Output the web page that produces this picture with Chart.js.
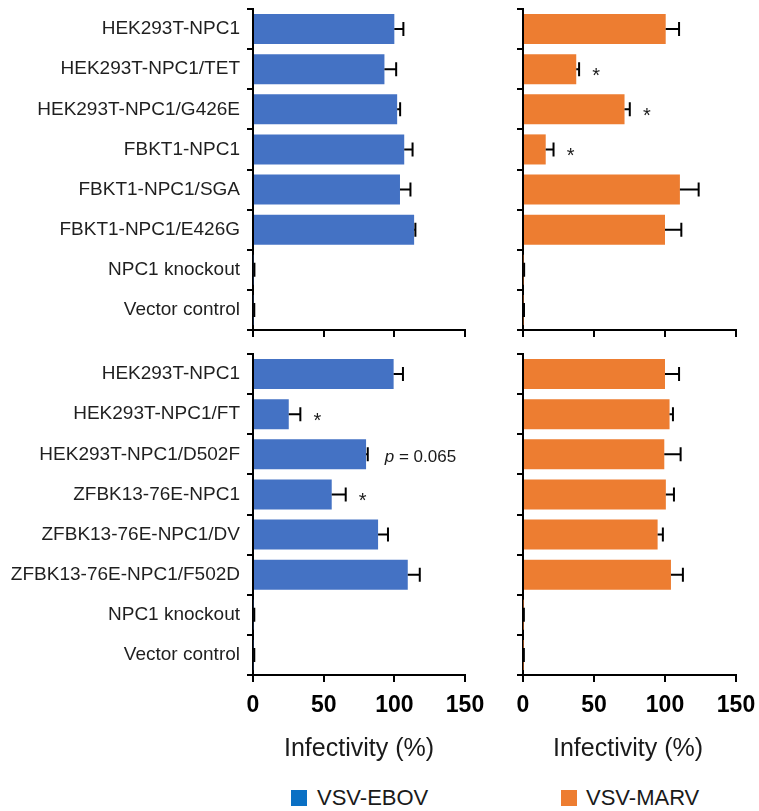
<!DOCTYPE html>
<html>
<head>
<meta charset="utf-8">
<script src="https://cdn.jsdelivr.net/npm/chart.js@4/dist/chart.umd.min.js"></script>
<style>
  html, body { margin: 0; padding: 0; background: #fff; }
  body { width: 759px; height: 811px; position: relative; overflow: hidden;
         font-family: 'Liberation Sans', Arial, sans-serif; color: #1a1a1a; }
  canvas { position: absolute; }
  .axis-title { position: absolute; font-size: 25px; line-height: 25px; white-space: nowrap;
                transform: translateX(-50%); }
  .legend-box { position: absolute; width: 16px; height: 16px; }
  .legend-text { position: absolute; font-size: 22px; line-height: 22px; white-space: nowrap; }
</style>
</head>
<body>
<canvas id="ebovTopChart" width="500" height="345" style="left:0;top:0"></canvas>
<canvas id="marvTopChart" width="279" height="345" style="left:480px;top:0"></canvas>
<canvas id="ebovBottomChart" width="500" height="400" style="left:0;top:340px"></canvas>
<canvas id="marvBottomChart" width="279" height="400" style="left:480px;top:340px"></canvas>

<div class="axis-title" style="left:359px;top:735px">Infectivity (%)</div>
<div class="axis-title" style="left:628px;top:735px">Infectivity (%)</div>

<div class="legend-box" style="left:291px;top:790px;background:#0A70C4"></div>
<div class="legend-text" style="left:317px;top:787px">VSV-EBOV</div>
<div class="legend-box" style="left:561px;top:790px;background:#ED7D31"></div>
<div class="legend-text" style="left:586px;top:787px">VSV-MARV</div>

<script>
// Cell lines shown in each half of the figure
const topCategories = [
  'HEK293T-NPC1', 'HEK293T-NPC1/TET', 'HEK293T-NPC1/G426E', 'FBKT1-NPC1',
  'FBKT1-NPC1/SGA', 'FBKT1-NPC1/E426G', 'NPC1 knockout', 'Vector control'
];
const bottomCategories = [
  'HEK293T-NPC1', 'HEK293T-NPC1/FT', 'HEK293T-NPC1/D502F', 'ZFBK13-76E-NPC1',
  'ZFBK13-76E-NPC1/DV', 'ZFBK13-76E-NPC1/F502D', 'NPC1 knockout', 'Vector control'
];

// Infectivity (%) with error (SD)
const ebovTop      = [100, 93, 102, 107, 104, 114, 0.5, 0.5];
const ebovTopErr   = [6.4, 8.3, 2.1, 5.9, 7.4, 0.9, 0.5, 0.4];
const marvTop      = [100.5, 37.5, 71.5, 16, 110.5, 100, 0.4, 0.4];
const marvTopErr   = [9.4, 2, 3.7, 5.5, 13.2, 11.5, 0.4, 0.3];
const ebovBottom    = [99.5, 25.3, 80, 55.7, 88.5, 109.5, 0.5, 0.5];
const ebovBottomErr = [6.6, 8.2, 1.2, 9.9, 7, 8.5, 0.4, 0.4];
const marvBottom    = [100, 103.2, 99.5, 100.6, 94.8, 104.2, 0.3, 0.3];
const marvBottomErr = [9.9, 2.4, 11.5, 5.7, 3.7, 8.4, 0.3, 0.3];

// Significance annotations per row
const marvTopMarks    = ['', '*', '*', '*', '', '', '', ''];
const ebovBottomMarks = ['', '*', 'p = 0.065', '*', '', '', '', ''];
const noMarks         = ['', '', '', '', '', '', '', ''];

// Axis range and tick values
const xTicks = [0, 50, 100, 150];

const FONT = "'Liberation Sans', Arial, sans-serif";
Chart.defaults.font.family = FONT;
Chart.defaults.color = '#1a1a1a';

// Error bars plus star / p-value annotations, drawn through the chart's own scales
const errorBarPlugin = {
  id: 'errorBars',
  afterDatasetsDraw(chart) {
    const ctx = chart.ctx;
    const xs = chart.scales.x;
    chart.data.datasets.forEach((ds, di) => {
      const meta = chart.getDatasetMeta(di);
      meta.data.forEach((bar, i) => {
        const v = ds.data[i];
        const e = ds.errors[i];
        const x0 = xs.getPixelForValue(v);
        const x1 = xs.getPixelForValue(v + e);
        const y = bar.y;
        ctx.save();
        ctx.strokeStyle = '#000';
        ctx.lineWidth = 2;
        ctx.beginPath();
        ctx.moveTo(x0, y);
        ctx.lineTo(x1, y);
        ctx.moveTo(x1, y - 7);
        ctx.lineTo(x1, y + 7);
        ctx.stroke();
        const mark = ds.marks[i];
        if (mark === '*') {
          ctx.fillStyle = '#1a1a1a';
          ctx.font = '20px ' + FONT;
          ctx.textAlign = 'center';
          ctx.textBaseline = 'alphabetic';
          ctx.fillText('*', x1 + 17, y + 13);
        } else if (mark) {
          ctx.fillStyle = '#1a1a1a';
          ctx.textAlign = 'left';
          ctx.textBaseline = 'alphabetic';
          const base = y + 8;
          let x = x1 + 17;
          ctx.font = 'italic 17px ' + FONT;
          ctx.fillText('p', x, base);
          x += ctx.measureText('p').width;
          ctx.font = '17px ' + FONT;
          ctx.fillText(mark.slice(1), x, base);
        }
        ctx.restore();
      });
    });
  }
};

function makePanel(id, labels, values, errors, marks, color, cfg) {
  return new Chart(document.getElementById(id), {
    type: 'bar',
    data: {
      labels: labels,
      datasets: [{
        data: values,
        errors: errors,
        marks: marks,
        backgroundColor: color,
        borderWidth: 0,
        barPercentage: 0.75,
        categoryPercentage: 1
      }]
    },
    options: {
      indexAxis: 'y',
      responsive: false,
      animation: false,
      events: [],
      layout: { padding: { top: cfg.padTop, right: cfg.padRight, bottom: 0, left: 0 } },
      plugins: { legend: { display: false }, tooltip: { enabled: false } },
      scales: {
        y: {
          type: 'category',
          grid: { display: true, drawOnChartArea: false, drawTicks: true, tickLength: 6,
                  color: '#000', lineWidth: 2, offset: true },
          border: { display: true, color: '#000', width: 2 },
          ticks: { display: cfg.showLabels, padding: 7, color: '#1f1f1f',
                   font: { size: 19, family: FONT } },
          afterFit(scale) {
            scale.width = cfg.yWidth;
            scale.paddingTop = 0; scale.paddingBottom = 0;
          }
        },
        x: {
          type: 'linear',
          min: xTicks[0],
          max: xTicks[xTicks.length - 1],
          afterBuildTicks(scale) { scale.ticks = xTicks.map(v => ({ value: v })); },
          grid: { display: true, drawOnChartArea: false, drawTicks: true, tickLength: 7,
                  color: '#000', lineWidth: 2 },
          border: { display: true, color: '#000', width: 2 },
          ticks: { display: cfg.showXTicks, padding: 10, color: '#000',
                   font: { size: 23, weight: 'bold', family: FONT } },
          afterFit(scale) {
            scale.height = cfg.xHeight;
            scale.paddingLeft = 0; scale.paddingRight = 0;
          }
        }
      }
    },
    plugins: [errorBarPlugin]
  });
}

const BLUE = '#4472C4';
const ORANGE = '#ED7D31';

makePanel('ebovTopChart', topCategories, ebovTop, ebovTopErr, noMarks, BLUE,
  { showLabels: true, showXTicks: false, yWidth: 253, padRight: 35, padTop: 9, xHeight: 15 });
makePanel('marvTopChart', topCategories, marvTop, marvTopErr, marvTopMarks, ORANGE,
  { showLabels: false, showXTicks: false, yWidth: 43, padRight: 23, padTop: 9, xHeight: 15 });
makePanel('ebovBottomChart', bottomCategories, ebovBottom, ebovBottomErr, ebovBottomMarks, BLUE,
  { showLabels: true, showXTicks: true, yWidth: 253, padRight: 35, padTop: 14, xHeight: 65 });
makePanel('marvBottomChart', bottomCategories, marvBottom, marvBottomErr, noMarks, ORANGE,
  { showLabels: false, showXTicks: true, yWidth: 43, padRight: 23, padTop: 14, xHeight: 65 });
</script>
</body>
</html>
